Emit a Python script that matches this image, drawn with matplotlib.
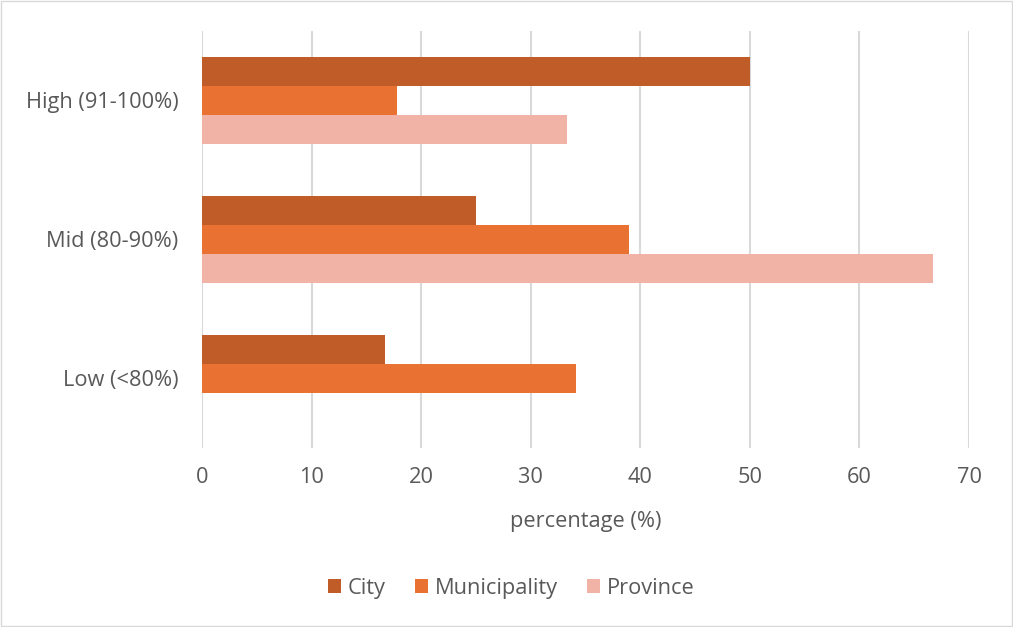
import matplotlib
matplotlib.use("Agg")
import matplotlib.pyplot as plt
import numpy as np

categories = ["Low (<80%)", "Mid (80-90%)", "High (91-100%)"]
series_names = ["City", "Municipality", "Province"]
city = [16.7, 25.0, 50.0]
municipality = [34.1, 39.0, 17.8]
province = [0.0, 66.7, 33.3]
colors = ["#C05C28", "#E97132", "#F1B3A5"]
xticks = [0, 10, 20, 30, 40, 50, 60, 70]

plt.rcParams['font.family'] = ['Open Sans', 'DejaVu Sans']
fig = plt.figure(figsize=(10.13, 6.27), dpi=100)
ax = fig.add_axes([0.1994, 0.2855, 0.7572, 0.6651])

y = np.arange(len(categories))
h = 0.207
for i, (vals, name, c) in enumerate(zip([city, municipality, province], series_names, colors)):
    ax.barh(y + (1 - i) * h, vals, height=h, color=c, label=name,
            edgecolor="none", linewidth=0, zorder=3)

fs = 15.7
ax.set_xlim(0, 70)
ax.set_ylim(-0.5, 2.5)
ax.set_xticks(xticks)
ax.set_yticks(y)
ax.set_yticklabels(categories)
ax.grid(axis="x", color="#D9D9D9", linewidth=1.5, zorder=0)
for s in ax.spines.values():
    s.set_visible(False)
ax.tick_params(length=0, labelsize=fs, colors="#595959")
ax.tick_params(axis="x", pad=14)
ax.tick_params(axis="y", pad=17)
ax.set_xlabel("percentage (%)", fontsize=fs, color="#595959", labelpad=16)

leg = fig.legend(loc="center", bbox_to_anchor=(0.505, 0.062), ncol=3, frameon=False,
                 fontsize=fs, labelcolor="#595959", handlelength=0.6, handleheight=0.6,
                 columnspacing=1.35, handletextpad=0.3)

fig.patches.append(plt.Rectangle((0.001, 0.001), 0.998, 0.998, transform=fig.transFigure,
                                 fill=False, edgecolor="#D9D9D9", linewidth=1))
fig.savefig("out.png", dpi=100)
